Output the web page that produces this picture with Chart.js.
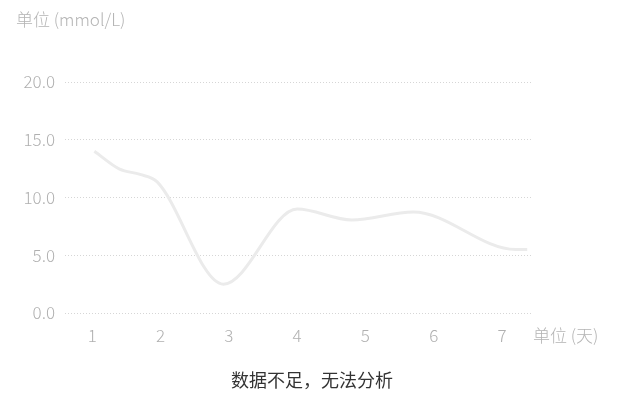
<!DOCTYPE html>
<html>
<head>
<meta charset="utf-8">
<script src="https://cdn.jsdelivr.net/npm/chart.js@4"></script>
<style>
  html, body { margin: 0; padding: 0; background: #fff; }
  #wrap { position: relative; width: 624px; height: 400px; }
  canvas { position: absolute; left: 0; top: 0; }
  .lbl { position: absolute; font-family: "Noto Sans CJK SC", "Noto Sans", sans-serif; white-space: nowrap; line-height: 1; }
  #ytitle { left: 16px; top: 10px; font-size: 17px; color: #b4b4b4; font-weight: 300; }
  #xtitle { left: 533px; top: 326px; font-size: 17px; color: #b4b4b4; font-weight: 300; }
  #note { left: 0; width: 624px; text-align: center; top: 370px; font-size: 18px; color: #333; }
</style>
</head>
<body>
<div id="wrap">
  <canvas id="c" width="624" height="400"></canvas>
  <div class="lbl" id="ytitle">单位 (mmol/L)</div>
  <div class="lbl" id="xtitle">单位 (天)</div>
  <div class="lbl" id="note">数据不足，无法分析</div>
</div>
<script>
const days = [1.03, 1.4, 1.7, 1.95, 2.92, 4.0, 4.8, 5.7, 7.2, 7.37];
const glucose = [14.0, 12.45, 12.0, 11.35, 2.5, 9.0, 8.05, 8.75, 5.5, 5.5];
const xTicks = [1, 2, 3, 4, 5, 6, 7];
const yTicks = [0, 5, 10, 15, 20];

const points = days.map((d, i) => ({ x: d, y: glucose[i] }));
const tickFont = { family: "'Noto Sans CJK SC', 'Noto Sans', sans-serif", size: 17, weight: 300 };

new Chart(document.getElementById('c'), {
  type: 'line',
  data: {
    datasets: [{
      data: points,
      borderColor: '#ebebeb',
      borderWidth: 3,
      pointRadius: 0,
      fill: false,
      cubicInterpolationMode: 'monotone'
    }]
  },
  options: {
    responsive: false,
    animation: false,
    devicePixelRatio: 1,
    layout: { padding: { left: 0, right: 92, top: 82, bottom: 0 } },
    plugins: { legend: { display: false }, tooltip: { enabled: false } },
    scales: {
      x: {
        type: 'linear',
        min: 0.6,
        max: 7.44,
        afterBuildTicks: s => { s.ticks = xTicks.map(v => ({ value: v })); },
        afterFit: s => { s.height = 87; },
        grid: { display: false, drawTicks: false },
        border: { display: false },
        ticks: { color: '#b0b0b0', font: tickFont, padding: 12, maxRotation: 0, autoSkip: false }
      },
      y: {
        min: 0,
        max: 20,
        afterBuildTicks: s => { s.ticks = yTicks.map(v => ({ value: v })); },
        afterFit: s => { s.width = 65; },
        grid: { color: '#d6d6d6', lineWidth: 1, drawTicks: false },
        border: { display: false, dash: [1, 2] },
        ticks: { color: '#b0b0b0', font: tickFont, padding: 10, callback: v => Number(v).toFixed(1) }
      }
    }
  }
});
</script>
</body>
</html>
